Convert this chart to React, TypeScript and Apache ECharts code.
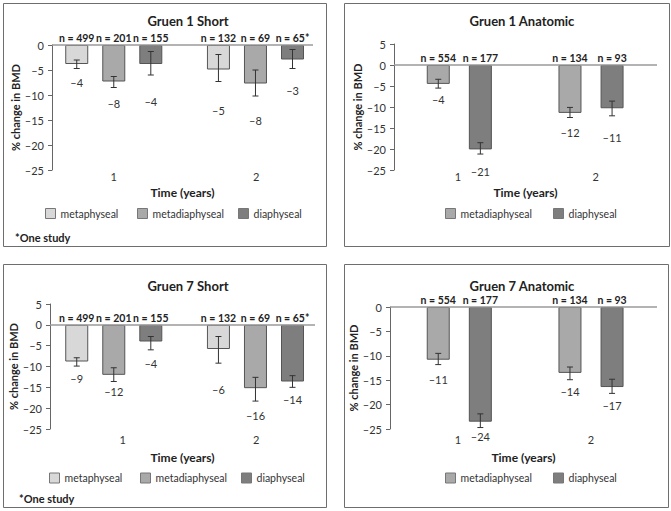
import React, { useEffect, useRef } from 'react';
import * as echarts from 'echarts';

const FONT = 'Lato';
const years = [1, 2];
const yearLabels = ['1', '2'];
const seriesNames = ['metaphyseal', 'metadiaphyseal', 'diaphyseal'];
const colors = ['#d8d8d8', '#a9a9a9', '#7e7e7e'];

// Gruen 1 Short
const g1sMeta = [-3.8, -4.9];
const g1sMetaHi = [-3.0, -1.9];
const g1sMetaLo = [-4.7, -7.3];
const g1sMetaLabel = [-4, -5];
const g1sMetaLabelAt = [-7.4, -13.0];
const g1sMetaN = ['499', '132'];
const g1sMetadia = [-7.3, -7.7];
const g1sMetadiaHi = [-6.3, -5.0];
const g1sMetadiaLo = [-8.5, -10.2];
const g1sMetadiaLabel = [-8, -8];
const g1sMetadiaLabelAt = [-11.7, -15.0];
const g1sMetadiaN = ['201', '69'];
const g1sDia = [-3.8, -2.9];
const g1sDiaHi = [-1.3, -0.9];
const g1sDiaLo = [-6.0, -4.7];
const g1sDiaLabel = [-4, -3];
const g1sDiaLabelAt = [-11.3, -9.0];
const g1sDiaN = ['155', '65*'];

// Gruen 1 Anatomic
const g1aMetadia = [-4.5, -11.4];
const g1aMetadiaHi = [-3.4, -10.1];
const g1aMetadiaLo = [-5.5, -12.5];
const g1aMetadiaLabel = [-4, -12];
const g1aMetadiaLabelAt = [-8.3, -16.1];
const g1aMetadiaN = ['554', '134'];
const g1aDia = [-20.1, -10.3];
const g1aDiaHi = [-18.5, -8.6];
const g1aDiaLo = [-21.2, -12.1];
const g1aDiaLabel = [-21, -11];
const g1aDiaLabelAt = [-25.4, -17.2];
const g1aDiaN = ['177', '93'];

// Gruen 7 Short
const g7sMeta = [-8.8, -5.8];
const g7sMetaHi = [-7.9, -2.8];
const g7sMetaLo = [-9.9, -9.2];
const g7sMetaLabel = [-9, -6];
const g7sMetaLabelAt = [-12.8, -15.6];
const g7sMetaN = ['499', '132'];
const g7sMetadia = [-12.0, -15.2];
const g7sMetadiaHi = [-10.3, -12.6];
const g7sMetadiaLo = [-13.6, -18.3];
const g7sMetadiaLabel = [-12, -16];
const g7sMetadiaLabelAt = [-16.0, -21.8];
const g7sMetadiaN = ['201', '69'];
const g7sDia = [-4.0, -13.6];
const g7sDiaHi = [-2.8, -12.2];
const g7sDiaLo = [-6.0, -15.0];
const g7sDiaLabel = [-4, -14];
const g7sDiaLabelAt = [-9.2, -18.0];
const g7sDiaN = ['155', '65*'];

// Gruen 7 Anatomic
const g7aMetadia = [-10.8, -13.5];
const g7aMetadiaHi = [-9.5, -12.3];
const g7aMetadiaLo = [-11.8, -14.9];
const g7aMetadiaLabel = [-11, -14];
const g7aMetadiaLabelAt = [-14.9, -17.4];
const g7aMetadiaN = ['554', '134'];
const g7aDia = [-23.5, -16.4];
const g7aDiaHi = [-21.9, -14.8];
const g7aDiaLo = [-24.7, -17.7];
const g7aDiaLabel = [-24, -17];
const g7aDiaLabelAt = [-26.6, -20.2];
const g7aDiaN = ['177', '93'];

const dash = (v: number) => (v < 0 ? '\u2013' + Math.abs(v) : String(v));

type S = { kind: number; v: number[]; hi: number[]; lo: number[]; lab: number[]; labAt: number[]; n: string[] };

const panels = [
  {
    title: 'Gruen 1 Short', box: [3, 3, 323, 243], titleXY: [183, 9],
    grid: { left: 52, top: 45, width: 261, height: 125 }, yMin: -25, yMax: 0,
    xMin: 0.564, xMax: 2.406, barGap: '61%', catAt: [1, 2.005], xLabelMargin: 1, xNameGap: 16, yNameGap: 29,
    legendTop: 208, legendLeft: [45, 137, 238], note: [15, 237],
    series: [
      { kind: 0, v: g1sMeta, hi: g1sMetaHi, lo: g1sMetaLo, lab: g1sMetaLabel, labAt: g1sMetaLabelAt, n: g1sMetaN },
      { kind: 1, v: g1sMetadia, hi: g1sMetadiaHi, lo: g1sMetadiaLo, lab: g1sMetadiaLabel, labAt: g1sMetadiaLabelAt, n: g1sMetadiaN },
      { kind: 2, v: g1sDia, hi: g1sDiaHi, lo: g1sDiaLo, lab: g1sDiaLabel, labAt: g1sDiaLabelAt, n: g1sDiaN },
    ] as S[],
  },
  {
    title: 'Gruen 1 Anatomic', box: [344, 3, 325, 243], titleXY: [517, 9],
    grid: { left: 394, top: 44, width: 263, height: 126 }, yMin: -25, yMax: 5,
    xMin: 0.504, xMax: 2.501, barGap: '83%', catAt: [0.99, 2.035], xLabelMargin: 1, xNameGap: 16, yNameGap: 31,
    legendTop: 208, legendLeft: [445, 553], note: null,
    series: [
      { kind: 1, v: g1aMetadia, hi: g1aMetadiaHi, lo: g1aMetadiaLo, lab: g1aMetadiaLabel, labAt: g1aMetadiaLabelAt, n: g1aMetadiaN },
      { kind: 2, v: g1aDia, hi: g1aDiaHi, lo: g1aDiaLo, lab: g1aDiaLabel, labAt: g1aDiaLabelAt, n: g1aDiaN },
    ] as S[],
  },
  {
    title: 'Gruen 7 Short', box: [3, 264, 323, 243], titleXY: [183, 274],
    grid: { left: 50, top: 304, width: 265, height: 125 }, yMin: -25, yMax: 5,
    xMin: 0.55, xMax: 2.42, barGap: '61%', catAt: [1.063, 2.005], xLabelMargin: 5, xNameGap: 22, yNameGap: 27,
    legendTop: 472.5, legendLeft: [49, 140, 241], note: [19, 498],
    series: [
      { kind: 0, v: g7sMeta, hi: g7sMetaHi, lo: g7sMetaLo, lab: g7sMetaLabel, labAt: g7sMetaLabelAt, n: g7sMetaN },
      { kind: 1, v: g7sMetadia, hi: g7sMetadiaHi, lo: g7sMetadiaLo, lab: g7sMetadiaLabel, labAt: g7sMetadiaLabelAt, n: g7sMetadiaN },
      { kind: 2, v: g7sDia, hi: g7sDiaHi, lo: g7sDiaLo, lab: g7sDiaLabel, labAt: g7sDiaLabelAt, n: g7sDiaN },
    ] as S[],
  },
  {
    title: 'Gruen 7 Anatomic', box: [344, 264, 324, 243], titleXY: [517, 274],
    grid: { left: 390, top: 307, width: 267, height: 122 }, yMin: -25, yMax: 0,
    xMin: 0.474, xMax: 2.501, barGap: '83%', catAt: [0.99, 2.0], xLabelMargin: 5, xNameGap: 22, yNameGap: 27,
    legendTop: 472.5, legendLeft: [445, 553], note: null,
    series: [
      { kind: 1, v: g7aMetadia, hi: g7aMetadiaHi, lo: g7aMetadiaLo, lab: g7aMetadiaLabel, labAt: g7aMetadiaLabelAt, n: g7aMetadiaN },
      { kind: 2, v: g7aDia, hi: g7aDiaHi, lo: g7aDiaLo, lab: g7aDiaLabel, labAt: g7aDiaLabelAt, n: g7aDiaN },
    ] as S[],
  },
];

const BAR_W = 23;

function buildOption() {
  const grid: any[] = [];
  const xAxis: any[] = [];
  const yAxis: any[] = [];
  const series: any[] = [];
  const legend: any[] = [];
  const title: any[] = [];
  const graphic: any[] = [];

  panels.forEach((p, pi) => {
    grid.push({ ...p.grid, containLabel: false });
    xAxis.push({
      type: 'value', gridIndex: pi, min: p.xMin, max: p.xMax,
      name: 'Time (years)', nameLocation: 'middle', nameGap: p.xNameGap,
      nameTextStyle: { fontFamily: FONT, fontWeight: 'bold', fontSize: 12, color: '#222' },
      axisLine: { show: false, onZero: false }, axisTick: { show: false }, splitLine: { show: false },
      axisLabel: {
        customValues: p.catAt, margin: p.xLabelMargin, fontFamily: FONT, fontSize: 11, color: '#333',
        formatter: (v: number) => yearLabels[Math.round(v) - 1] ?? '',
      },
    });
    yAxis.push({
      type: 'value', gridIndex: pi, min: p.yMin, max: p.yMax, interval: 5,
      name: '% change in BMD', nameLocation: 'middle', nameGap: p.yNameGap, nameRotate: 90,
      nameTextStyle: { fontFamily: FONT, fontWeight: 'bold', fontSize: 11, color: '#222' },
      axisLine: { show: true, lineStyle: { color: '#666', width: 1 } },
      axisTick: { show: true, length: 4, lineStyle: { color: '#666' } },
      splitLine: { show: false },
      axisLabel: { margin: 8, fontFamily: FONT, fontSize: 11, color: '#333', formatter: (v: number) => dash(v) },
    });

    const n = p.series.length;
    const items: any[] = [];
    p.series.forEach((s, si) => {
      series.push({
        type: 'bar', name: seriesNames[s.kind], xAxisIndex: pi, yAxisIndex: pi,
        barWidth: BAR_W, barGap: p.barGap,
        data: years.map((y, j) => [y, s.v[j]]),
        itemStyle: { color: colors[s.kind], borderColor: '#555', borderWidth: 1 },
        markLine: si === 0 ? {
          silent: true, symbol: ['none', 'none'], label: { show: false },
          lineStyle: { color: '#9a9a9a', width: 1.5, type: 'solid' },
          data: [{ yAxis: 0 }],
        } : undefined,
      });
      const off = (si - (n - 1) / 2) * BAR_W * (1 + parseFloat(p.barGap) / 100);
      years.forEach((y, j) => {
        items.push({ x: y, off, lo: s.lo[j], hi: s.hi[j], lab: s.lab[j], labAt: s.labAt[j], n: s.n[j] });
      });
      legend.push({
        left: p.legendLeft[si], top: p.legendTop, padding: 0, itemWidth: 10, itemHeight: 10,
        icon: 'rect', selectedMode: false,
        data: [{ name: seriesNames[s.kind], itemStyle: { color: colors[s.kind], borderColor: '#777', borderWidth: 1 } }],
        textStyle: { fontFamily: FONT, fontSize: 10.5, color: '#333' },
      });
    });
    series.push({
      type: 'custom', xAxisIndex: pi, yAxisIndex: pi, clip: false, z: 10, silent: true,
      data: items.map((it) => [it.x, it.lo]),
      encode: { x: 0, y: 1 },
      renderItem: (params: any, api: any) => {
        const it = items[params.dataIndex];
        const base = api.coord([it.x, 0]);
        const cx = base[0] + it.off;
        const yLo = api.coord([it.x, it.lo])[1];
        const yHi = api.coord([it.x, it.hi])[1];
        const yLab = api.coord([it.x, it.labAt])[1];
        const st = { stroke: '#333', lineWidth: 1 };
        return {
          type: 'group',
          children: [
            { type: 'line', shape: { x1: cx, y1: yLo, x2: cx, y2: yHi }, style: st },
            { type: 'line', shape: { x1: cx - 3, y1: yLo, x2: cx + 3, y2: yLo }, style: st },
            { type: 'line', shape: { x1: cx - 3, y1: yHi, x2: cx + 3, y2: yHi }, style: st },
            { type: 'text', x: cx, y: yLab, style: { text: dash(it.lab), align: 'center', verticalAlign: 'middle', fontSize: 11, fontFamily: FONT, fill: '#333' } },
            { type: 'text', x: cx, y: base[1] - 7, style: { text: 'n = ' + it.n, align: 'center', verticalAlign: 'middle', fontSize: 10.5, fontWeight: 'bold', fontFamily: FONT, fill: '#222' } },
          ],
        };
      },
    });

    title.push({
      text: p.title, left: p.titleXY[0], top: p.titleXY[1], textAlign: 'center',
      textStyle: { fontFamily: FONT, fontWeight: 'bold', fontSize: 13, color: '#222' },
    });

    graphic.push({
      type: 'rect', shape: { x: p.box[0] + 0.5, y: p.box[1] + 0.5, width: p.box[2], height: p.box[3] },
      style: { fill: 'none', stroke: '#6e6e6e', lineWidth: 1 }, silent: true, z: -1,
    });
    if (p.note) {
      graphic.push({
        type: 'text', x: p.note[0], y: p.note[1],
        style: { text: '*One study', fontFamily: FONT, fontSize: 11, fontWeight: 'bold', fill: '#222', verticalAlign: 'middle' },
      });
    }
  });

  return { animation: false, textStyle: { fontFamily: FONT }, grid, xAxis, yAxis, series, legend, title, graphic };
}

export default function App() {
  const ref = useRef<HTMLDivElement>(null);
  useEffect(() => {
    document.body.style.margin = '0';
    const chart = echarts.init(ref.current!, undefined, { renderer: 'svg' });
    chart.setOption(buildOption() as any);
    return () => chart.dispose();
  }, []);
  return <div ref={ref} style={{ position: 'fixed', left: 0, top: 0, width: 671, height: 511, background: '#fff' }} />;
}
